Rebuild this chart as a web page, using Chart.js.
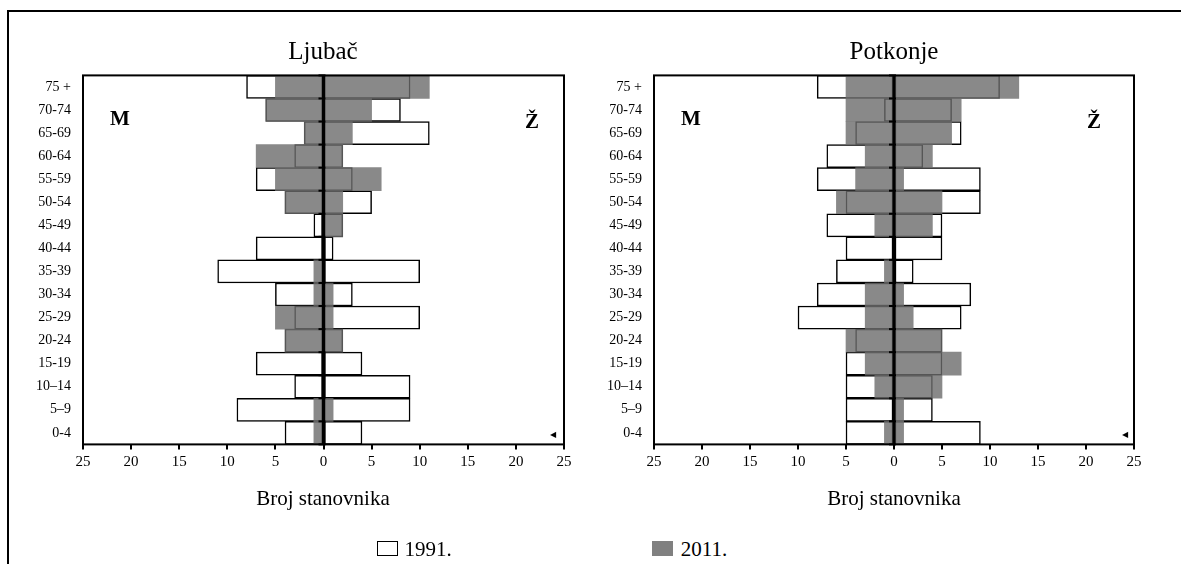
<!DOCTYPE html>
<html>
<head>
<meta charset="utf-8">
<script src="https://cdn.jsdelivr.net/npm/chart.js@4.4.0/dist/chart.umd.min.js"></script>
<style>
  html, body { margin:0; padding:0; background:#fff; }
  body { width:1181px; height:564px; position:relative; overflow:hidden; font-family:"Liberation Serif", serif; color:#000; }
  #frame { position:absolute; left:7px; top:10px; width:1200px; height:600px; border-left:2px solid #000; border-top:2px solid #000; }
  canvas { position:absolute; }
  .t { position:absolute; transform:translate(-50%,-50%); white-space:nowrap; line-height:1; }
  .sw { position:absolute; box-sizing:border-box; }
</style>
</head>
<body>
<div id="frame"></div>
<canvas id="c1" width="590" height="450" style="left:0px;top:63px;width:590px;height:450px"></canvas>
<canvas id="c2" width="591" height="450" style="left:590px;top:63px;width:591px;height:450px"></canvas>

<div class="t" style="left:323px;top:50px;font-size:25px">Ljubač</div>
<div class="t" style="left:894px;top:50px;font-size:25px">Potkonje</div>
<div class="t" style="left:120px;top:118px;font-size:21px;font-weight:bold">M</div>
<div class="t" style="left:532px;top:121px;font-size:21px;font-weight:bold">Ž</div>
<div class="t" style="left:691px;top:118px;font-size:21px;font-weight:bold">M</div>
<div class="t" style="left:1094px;top:121px;font-size:21px;font-weight:bold">Ž</div>
<div class="t" style="left:553px;top:435px;font-size:8px">◀</div>
<div class="t" style="left:1125px;top:435px;font-size:8px">◀</div>
<div class="t" style="left:323px;top:498px;font-size:21px">Broj stanovnika</div>
<div class="t" style="left:894px;top:498px;font-size:21px">Broj stanovnika</div>

<div class="sw" style="left:377px;top:541px;width:21px;height:15px;border:1.5px solid #000;background:#fff"></div>
<div class="t" style="left:428px;top:549px;font-size:21px">1991.</div>
<div class="sw" style="left:652px;top:541px;width:21px;height:15px;background:#808080"></div>
<div class="t" style="left:704px;top:549px;font-size:21px">2011.</div>

<script>
// Age groups (top to bottom)
const ages = ['75 +','70-74','65-69','60-64','55-59','50-54','45-49','40-44','35-39','30-34','25-29','20-24','15-19','10–14','5–9','0-4'];
const xTicks = [-25,-20,-15,-10,-5,0,5,10,15,20,25];

// Ljubač
const ljubacM1991 = [8,6,2,3,7,4,1,7,11,5,3,4,7,3,9,4];
const ljubacF1991 = [9,8,11,2,3,5,2,1,10,3,10,2,4,9,9,4];
const ljubacM2011 = [5,6,2,7,5,4,0,0,1,1,5,4,0,0,1,1];
const ljubacF2011 = [11,5,3,2,6,2,2,0,0,1,1,2,0,0,1,0];

// Potkonje
const potkonjeM1991 = [8,1,4,7,8,5,7,5,6,8,10,4,5,5,5,5];
const potkonjeF1991 = [11,6,7,3,9,9,5,5,2,8,7,5,5,4,4,9];
const potkonjeM2011 = [5,5,5,3,4,6,2,0,1,3,3,5,3,2,0,1];
const potkonjeF2011 = [13,7,6,4,1,5,4,0,0,1,2,5,7,5,1,1];

const GRAY = 'rgba(108,108,108,0.8)';

const framePlugin = {
  id: 'framePlugin',
  afterDatasetsDraw(chart) {
    const ctx = chart.ctx, a = chart.chartArea;
    const xs = chart.scales.x, ys = chart.scales.y;
    const x0 = xs.getPixelForValue(0);
    const step = ys.getPixelForValue(1) - ys.getPixelForValue(0);
    ctx.save();
    ctx.strokeStyle = '#000';
    ctx.lineWidth = 3;
    ctx.beginPath(); ctx.moveTo(x0, a.top); ctx.lineTo(x0, a.bottom); ctx.stroke();
    ctx.lineWidth = 2;
    const n = ys.ticks.length;
    for (let i = 0; i <= n; i++) {
      const y = ys.getPixelForValue(0) - step / 2 + i * step;
      ctx.beginPath(); ctx.moveTo(x0 - 5, y); ctx.lineTo(x0 + 2, y); ctx.stroke();
    }
    ctx.lineWidth = 2;
    ctx.strokeRect(a.left, a.top, a.right - a.left, a.bottom - a.top);
    ctx.restore();
  }
};

function makeChart(id, m91, f91, m11, f11, yWidth, padRight) {
  const neg = arr => arr.map(v => v === 0 ? null : -v);
  const pos = arr => arr.map(v => v === 0 ? null : v);
  const common = { grouped: false, categoryPercentage: 1.0, barPercentage: 1.0, borderSkipped: false };
  const box = { xHeight: 70 };
  const chart = new Chart(document.getElementById(id), {
    type: 'bar',
    data: {
      labels: ages,
      datasets: [
        Object.assign({ label: '2011. M', data: neg(m11), backgroundColor: GRAY, borderWidth: 0, order: 0 }, common),
        Object.assign({ label: '2011. Ž', data: pos(f11), backgroundColor: GRAY, borderWidth: 0, order: 0 }, common),
        Object.assign({ label: '1991. M', data: neg(m91), backgroundColor: '#ffffff', borderColor: '#000', borderWidth: 1.5, order: 1 }, common),
        Object.assign({ label: '1991. Ž', data: pos(f91), backgroundColor: '#ffffff', borderColor: '#000', borderWidth: 1.5, order: 1 }, common)
      ]
    },
    options: {
      indexAxis: 'y',
      responsive: false,
      animation: false,
      layout: { padding: { top: 10, right: padRight, left: 0, bottom: 0 } },
      plugins: { legend: { display: false }, tooltip: { enabled: false }, title: { display: false } },
      scales: {
        x: {
          type: 'linear', min: -25, max: 25,
          afterBuildTicks: s => { s.ticks = xTicks.map(v => ({ value: v })); },
          afterFit: s => { s.height = box.xHeight; },
          grid: { display: true, drawOnChartArea: false, drawTicks: true, tickLength: 5, color: '#000', lineWidth: 2 },
          border: { display: false },
          ticks: { color: '#000', padding: 4, maxRotation: 0, autoSkip: false,
                   font: { family: 'Liberation Serif', size: 15 },
                   callback: v => Math.abs(v) }
        },
        y: {
          afterFit: s => { s.width = yWidth; },
          grid: { display: false },
          border: { display: false },
          ticks: { color: '#000', padding: 4, autoSkip: false, font: { family: 'Liberation Serif', size: 14 } }
        }
      }
    },
    plugins: [framePlugin]
  });
  // place the plot area: top at 10px and bottom at 379px inside the canvas
  const a = chart.chartArea;
  chart.options.layout.padding.top += 10 - a.top;
  box.xHeight += a.bottom - 379 + (10 - a.top);
  chart.update();
  return chart;
}

makeChart('c1', ljubacM1991, ljubacF1991, ljubacM2011, ljubacF2011, 83, 26);
makeChart('c2', potkonjeM1991, potkonjeF1991, potkonjeM2011, potkonjeF2011, 64, 47);
</script>
</body>
</html>
